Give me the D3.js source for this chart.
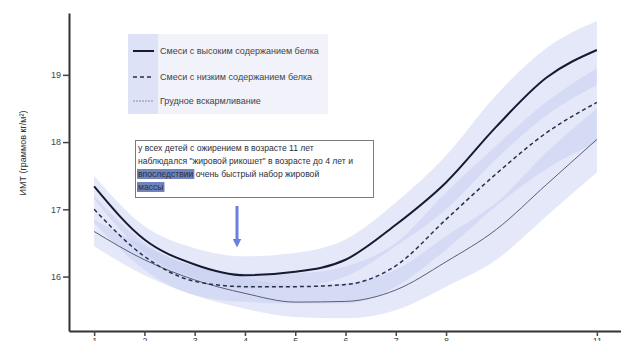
<!DOCTYPE html>
<html>
<head>
<meta charset="utf-8">
<script src="https://cdn.jsdelivr.net/npm/d3@7"></script>
<style>
  body { margin: 0; background: #fff; }
  svg { display: block; font-family: "Liberation Sans", Arial, sans-serif; }
</style>
</head>
<body>
<script>
'use strict';

// ages (years)
const ages = [1, 2, 3, 4, 5, 6, 7, 8, 9, 10, 11];
const xTicks = [1, 2, 3, 4, 5, 6, 7, 8, 11];
const yTicks = [16, 17, 18, 19];

// BMI curves
const highProtein = [17.34, 16.55, 16.18, 16.02, 16.07, 16.25, 16.77, 17.40, 18.23, 18.96, 19.37];
const highUpper   = [17.50, 16.75, 16.42, 16.30, 16.35, 16.55, 17.10, 17.80, 18.70, 19.40, 19.80];
const highLower   = [17.15, 16.35, 15.98, 15.82, 15.85, 16.00, 16.45, 17.00, 17.75, 18.40, 18.85];

const lowProtein  = [17.00, 16.30, 15.93, 15.85, 15.85, 15.88, 16.16, 16.85, 17.53, 18.14, 18.59];
const lowUpper    = [17.20, 16.50, 16.15, 16.05, 16.05, 16.15, 16.50, 17.25, 17.95, 18.60, 19.10];
const lowLower    = [16.80, 16.10, 15.72, 15.62, 15.60, 15.60, 15.85, 16.40, 17.05, 17.60, 18.00];

const breastfed   = [16.67, 16.25, 15.95, 15.75, 15.62, 15.63, 15.80, 16.22, 16.70, 17.37, 18.04];
const breastUpper = [16.85, 16.45, 16.15, 15.98, 15.87, 15.90, 16.10, 16.60, 17.10, 17.85, 18.50];
const breastLower = [16.45, 16.02, 15.72, 15.52, 15.40, 15.38, 15.50, 15.85, 16.25, 16.90, 17.55];

const legendLabels = [
  "Смеси с высоким содержанием белка",
  "Смеси с низким содержанием белка",
  "Грудное вскармливание"
];
const noteLines = [
  "у всех детей с ожирением в возрасте 11 лет",
  "наблюдался \"жировой рикошет\" в возрасте до 4 лет и",
  "впоследствии очень быстрый набор жировой",
  "массы"
];

const width = 621, height = 341;

const svg = d3.select("body").append("svg")
    .attr("width", width)
    .attr("height", height);

let x = d3.scaleLinear().domain([0.5, 11.48]).range([69, 621]);
let y = d3.scaleLinear().domain([15.19, 19.92]).range([331, 13]);

function series(vals) { return ages.map((a, i) => ({a: a, v: vals[i]})); }
function band(lo, hi) { return ages.map((a, i) => ({a: a, lo: lo[i], hi: hi[i]})); }

let area = d3.area()
    .x(d => x(d.a))
    .y0(d => y(d.lo))
    .y1(d => y(d.hi))
    .curve(d3.curveMonotoneX);

let line = d3.line()
    .x(d => x(d.a))
    .y(d => y(d.v))
    .curve(d3.curveMonotoneX);

// confidence bands
let bands = [band(highLower, highUpper), band(lowLower, lowUpper), band(breastLower, breastUpper)];
svg.append("g")
  .selectAll("path")
  .data(bands)
  .enter().append("path")
    .attr("d", area)
    .attr("fill", "#c3cbef")
    .attr("opacity", 0.45);

// curves
svg.append("path").attr("d", line(series(breastfed)))
    .attr("fill", "none").attr("stroke", "#5a5f78").attr("stroke-width", 1);
svg.append("path").attr("d", line(series(lowProtein)))
    .attr("fill", "none").attr("stroke", "#2a2f4c").attr("stroke-width", 1.5)
    .attr("stroke-dasharray", "4,3");
svg.append("path").attr("d", line(series(highProtein)))
    .attr("fill", "none").attr("stroke", "#161a33").attr("stroke-width", 2);

// axes
let xAxis = svg.append("g")
    .attr("transform", "translate(0,331)")
    .call(d3.axisBottom(x).tickValues(xTicks).tickFormat(d3.format("d"))
      .tickSize(5).tickSizeOuter(0).tickPadding(2));
let yAxis = svg.append("g")
    .attr("transform", "translate(69,0)")
    .call(d3.axisLeft(y).tickValues(yTicks).tickFormat(d3.format("d"))
      .tickSize(6).tickSizeOuter(0).tickPadding(2));

[xAxis, yAxis].forEach(g => {
  g.select(".domain").attr("stroke", "#333").attr("stroke-width", 2);
  g.selectAll(".tick line").attr("stroke", "#444").attr("stroke-width", 1.5);
  g.selectAll(".tick text").attr("fill", "#444").style("font-size", "9px");
});

// y label
svg.append("text")
    .attr("transform", "translate(26,153) rotate(-90)")
    .attr("text-anchor", "middle")
    .style("font-size", "9px")
    .attr("fill", "#333")
    .text("ИМТ (граммов кг/м²)");

// legend
let legend = svg.append("g");
legend.append("rect")
    .attr("x", 128).attr("y", 34).attr("width", 200).attr("height", 80)
    .attr("fill", "#f1f2fa");
legend.append("rect")
    .attr("x", 128).attr("y", 34).attr("width", 30).attr("height", 80)
    .attr("fill", "#dde2f6");

let legStyles = [
  {stroke: "#161a33", w: 2, dash: null},
  {stroke: "#2a2f4c", w: 1.5, dash: "4,3"},
  {stroke: "#8a8ea8", w: 1, dash: "2,1"}
];
let legY = [51, 77, 101];
legendLabels.forEach((t, i) => {
  legend.append("line")
      .attr("x1", 133).attr("x2", 154)
      .attr("y1", legY[i]).attr("y2", legY[i])
      .attr("stroke", legStyles[i].stroke)
      .attr("stroke-width", legStyles[i].w)
      .attr("stroke-dasharray", legStyles[i].dash);
  legend.append("text")
      .attr("x", 160).attr("y", legY[i] + 3)
      .style("font-size", "9px")
      .attr("fill", "#444")
      .text(t);
});

// annotation box
let note = svg.append("g");
note.append("rect")
    .attr("x", 135.5).attr("y", 140.5).attr("width", 238).attr("height", 57)
    .attr("fill", "#fff").attr("stroke", "#7a7a80").attr("stroke-width", 1);
let noteY = [151, 164, 177, 190];
noteLines.forEach((t, i) => {
  let txt = note.append("text")
      .attr("x", 138).attr("y", noteY[i])
      .style("font-size", "8.6px")
      .attr("fill", "#2a2f40");
  if (i >= 2) {
    let first = t.split(" ")[0];
    let rest = t.slice(first.length);
    let hl = note.insert("rect", "text")
        .attr("x", 137).attr("y", noteY[i] - 8).attr("height", 10)
        .attr("fill", "#6f83bd");
    txt.append("tspan").text(first);
    txt.append("tspan").text(rest);
    hl.attr("width", txt.select("tspan").node().getComputedTextLength() + 2);
  } else {
    txt.text(t);
  }
});

// arrow
svg.append("defs").append("marker")
    .attr("id", "head")
    .attr("viewBox", "0 0 10 10")
    .attr("refX", 5).attr("refY", 5)
    .attr("markerWidth", 3).attr("markerHeight", 3)
    .attr("orient", "auto")
  .append("path")
    .attr("d", "M0,0L10,5L0,10Z")
    .attr("fill", "#6a7fe0");
svg.append("line")
    .attr("x1", 237).attr("x2", 237)
    .attr("y1", 206).attr("y2", 243)
    .attr("stroke", "#6a7fe0").attr("stroke-width", 3)
    .attr("marker-end", "url(#head)");
</script>
</body>
</html>
